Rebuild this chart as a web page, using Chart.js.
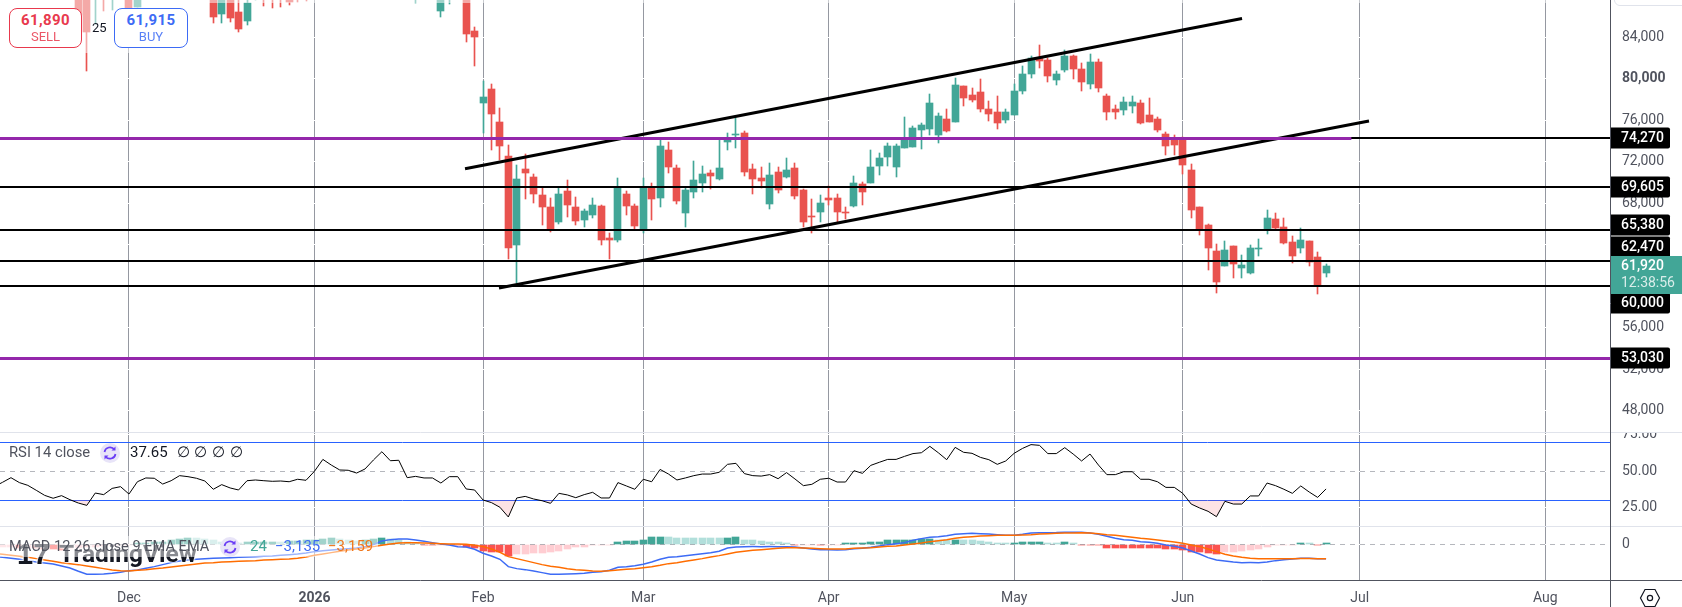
<!DOCTYPE html>
<html lang="en">
<head>
<meta charset="utf-8">
<title>Daily price chart with RSI and MACD</title>
<script src="https://cdn.jsdelivr.net/npm/chart.js@4/dist/chart.umd.min.js"></script>
<style>
  html, body { margin: 0; padding: 0; background: #fff; width: 1682px; height: 607px; overflow: hidden; }
  body { position: relative; font-family: Roboto, "Noto Sans", sans-serif; }
  canvas { position: absolute; left: 0; top: 0; }
  .abs { position: absolute; white-space: nowrap; }
  .order { box-sizing: border-box; height: 40px; top: 8px; border: 1px solid; border-radius: 8px; background: #fff; text-align: center; }
  .order b { display: block; font-size: 15px; line-height: 17px; margin-top: 3px; letter-spacing: .4px; }
  .order span { display: block; font-size: 13px; line-height: 15px; opacity: .85; }
  .row { font-size: 14.6px; color: #50535e; line-height: 20px; }
  .halo { color: #131722; font-weight: 700; text-shadow: 0 0 2px #fff, 0 0 2px #fff, 0 0 3px #fff; }
</style>
</head>
<body>
<canvas id="chart" width="1682" height="607"></canvas>

<div class="abs" style="left:1614px;top:-12px;width:90px;height:16px;border:1px solid #e0e3eb;border-radius:6px;"></div>

<!-- logo mark in the lower pane -->
<div class="abs halo" style="left:17px;top:538px;font-size:29px;line-height:32px;font-family:'Liberation Sans',sans-serif;">17</div>
<div class="abs halo" style="left:59px;top:538px;font-size:24.5px;line-height:32px;font-family:Roboto,sans-serif;">TradingView</div>
<div class="abs" style="left:0;top:536px;width:378px;height:21px;background:rgba(255,255,255,.5);"></div>

<!-- order buttons -->
<div class="abs order" style="left:9px;width:73px;color:#e8394d;border-color:#e8394d;"><b>61,890</b><span>SELL</span></div>
<div class="abs" style="left:92px;top:19px;font-size:13px;line-height:18px;color:#131722;">25</div>
<div class="abs order" style="left:114px;width:74px;color:#3d6bf5;border-color:#3d6bf5;"><b>61,915</b><span>BUY</span></div>

<!-- indicator legends -->
<div class="abs row" style="left:9px;top:442px;font-size:14.8px;">RSI 14 close</div>
<svg class="abs" style="left:100px;top:443px;" width="20" height="20" viewBox="0 0 20 20"><circle cx="10" cy="10" r="10" fill="#e8e4f8"/><path d="M4.5 9a5.6 5.6 0 0 1 10-2.4M15.5 11a5.6 5.6 0 0 1-10 2.4" fill="none" stroke="#6a3df5" stroke-width="1.7"/><path d="M15.5 3.6v4h-4zM4.5 16.4v-4h4z" fill="#6a3df5"/></svg>
<div class="abs row" style="left:130px;top:442px;color:#131722;font-size:15px;">37.65<span style="margin-left:9px;word-spacing:1px;">∅ ∅ ∅ ∅</span></div>

<div class="abs row" style="left:9px;top:536px;">MACD 12 26 close 9 EMA EMA</div>
<svg class="abs" style="left:220px;top:537px;" width="20" height="20" viewBox="0 0 20 20"><circle cx="10" cy="10" r="10" fill="#e8e4f8"/><path d="M4.5 9a5.6 5.6 0 0 1 10-2.4M15.5 11a5.6 5.6 0 0 1-10 2.4" fill="none" stroke="#6a3df5" stroke-width="1.7"/><path d="M15.5 3.6v4h-4zM4.5 16.4v-4h4z" fill="#6a3df5"/></svg>
<div class="abs row" style="left:250px;top:536px;color:#42a697;font-size:15px;">24</div>
<div class="abs row" style="left:275px;top:536px;color:#3d6bf5;font-size:15px;">−3,135</div>
<div class="abs row" style="left:328px;top:536px;color:#f0771c;font-size:15px;">−3,159</div>

<!-- settings glyph under the price axis -->
<svg class="abs" style="left:1639px;top:588px;" width="22" height="20" viewBox="0 0 22 20"><path d="M6 1.5h10l4.5 8.5-4.5 8.5H6L1.5 10z" fill="none" stroke="#131722" stroke-width="1.2"/><circle cx="11" cy="10" r="2.6" fill="none" stroke="#131722" stroke-width="1.2"/></svg>

<script>
// Bar numbering: bar 0 is the first session of December, sessions only, no weekends.
const firstBar = -16;

const opens = [
94200,94600,93900,93200,94100,95200,94300,92900,91700,92200,90600,89000,89500,90000,88200,90400,
91000,86940,90200,89300,90100,91300,92600,93900,94900,93300,90700,86260,88400,86450,85580,87800,
88600,88900,88700,88100,88300,88900,88300,89200,90700,91300,90800,89700,90400,91900,93400,95100,
93200,91300,89100,90200,89200,86550,88600,89300,88200,84620,77680,79030,75840,72560,63980,71310,
70540,68800,67640,66200,69190,67640,66390,66870,67740,64650,64460,68900,67740,65430,69570,68510,
73140,71410,67070,69090,69960,70920,70340,73910,74590,74780,71310,70440,67930,71020,70540,71410,
69280,66780,67160,68510,68510,67160,67740,69860,69960,71600,72470,71500,73340,73430,75070,75170,
74590,76130,75840,79320,78450,78740,77100,76810,76040,76520,78830,80470,81980,81820,79890,80860,
82210,80950,79510,81630,78350,77100,77000,77390,77680,76520,76130,74690,74110,74200,71210,67640,
65910,63400,61950,63880,61760,61280,63590,65520,66490,65710,64270,63690,64360,62820,61280];

const highs = [
95100,95500,94700,94400,95600,95900,94800,93600,92500,92800,91100,90000,90100,90400,91000,91500,
91900,90600,91300,90400,91700,93000,94300,95400,95200,93700,91200,89000,88800,88000,87900,89000,
89000,89400,89300,88600,88700,89100,89600,91000,91800,92400,91100,90900,92300,93900,95600,96200,
94100,91900,90800,91300,89800,89000,89700,90000,88900,85000,79800,79510,77190,73620,71700,72720,
70830,69480,68510,69570,70250,68610,67450,68510,67840,65140,70440,69190,67900,70440,69930,74110,
73910,71700,69540,72080,71600,71210,74110,74780,76200,74970,71790,71500,71890,71500,72370,71890,
69380,68420,68800,69670,68900,67640,70630,70050,73140,72850,73820,73720,76330,75460,75750,78540,
76710,77100,80090,79320,79120,79990,77870,78350,77100,79510,81240,82210,83270,82020,80760,82790,
82310,81530,82400,81920,78540,77480,78250,78350,77960,78160,76330,74880,74590,74400,71790,67640,
66000,64080,64360,63880,63010,63980,64560,67350,67070,66580,64850,65620,64360,63300,62150];

const lows = [
93300,93700,92800,92500,93600,93900,92600,91400,90600,90200,85800,80760,85300,86550,86650,88800,
85800,86900,88900,88300,89800,90800,92100,93200,92900,90400,85390,85390,85490,84520,85200,87650,
87030,86840,86940,87130,87420,87520,87800,88800,90100,90500,89300,89100,90000,91300,93000,92800,
90800,88700,87320,88900,88000,85970,87220,87800,83560,81270,74780,73140,72180,62600,60280,68420,
68030,65910,65230,66000,66680,65910,65720,66580,63980,62600,64270,66870,65430,65100,66390,67640,
70920,67930,65720,68510,69090,69380,70250,73140,73330,70630,68900,69480,67450,68990,70440,68420,
65720,65140,66200,67840,66200,66490,67640,67840,69960,70730,71600,70540,73340,73430,73240,74590,
73820,74880,75840,77390,77770,76810,75940,75170,75750,76520,78540,80090,81050,79700,79410,80670,
79990,78830,79030,78740,76040,76130,76520,76710,75650,75840,74880,72660,72660,70830,66580,64940,
61570,59350,61950,60800,60800,61180,62920,65040,65500,64080,62240,63210,61950,59250,60890];

const closes = [
94600,93900,93200,94100,95200,94300,92900,91700,92200,90600,86160,84520,90000,88200,90400,90900,
86200,90200,89300,90100,91300,92600,93900,94900,93300,90700,85970,88400,85870,84810,87300,88600,
87900,88200,87950,87420,88000,88300,89200,90700,91300,90800,89700,90400,91900,93400,95100,93200,
91300,89100,90200,89200,88400,88600,89300,88200,84330,84040,78250,76610,73530,63720,70340,70920,
68900,67640,65430,68900,67840,66290,67260,67840,64460,64460,69570,67740,65810,69480,68420,73530,
71500,68220,69280,70250,70830,70630,71410,74170,74690,71020,70340,70150,70730,69280,71210,68710,
66200,66680,68030,68320,67160,67070,69960,69090,71500,72370,73530,73530,74300,75260,75550,77680,
76420,74980,79410,78160,77970,77100,76610,75750,76810,78830,80470,82020,81730,80280,80470,82210,
80950,79700,81630,79120,76810,76810,77770,77770,75750,75840,75070,73530,73630,71700,67360,65520,
63690,60410,63500,62150,62050,63690,63690,66580,65620,64170,62920,64460,62340,60120,61920];

const rsiValues = [
39.2,42.2,45.4,42.0,40.1,36.7,33.2,31.2,33.0,30.2,27.9,26.3,34.8,33.7,38.0,39.2,
34.1,42.6,45.2,45.0,41.0,43.3,46.8,46.1,45.0,43.1,37.4,40.6,38.3,36.9,43.3,43.8,
43.3,42.9,43.1,42.6,44.3,43.6,49.8,58.0,54.1,50.7,50.5,48.6,51.4,57.6,63.3,57.1,
57.4,45.4,46.3,45.2,45.2,41.7,46.1,46.1,37.6,36.9,30.0,28.2,25.0,18.3,31.4,32.5,
30.7,29.5,27.7,34.6,33.5,31.6,33.7,35.3,31.4,31.4,42.0,39.7,37.4,44.3,42.6,51.1,
47.9,43.8,45.2,46.8,47.9,47.9,49.1,54.6,55.3,48.2,46.8,46.5,47.5,44.7,48.9,44.5,
39.9,40.8,44.3,45.0,42.4,42.4,50.2,48.4,53.9,56.0,58.0,58.0,60.1,62.0,62.6,67.0,
62.6,57.8,66.3,62.9,62.2,59.4,57.8,54.6,56.9,62.2,65.6,68.2,67.7,62.0,62.0,66.1,
61.7,56.9,61.7,54.1,47.5,47.5,49.5,49.5,44.3,44.3,42.6,38.7,38.7,34.6,27.2,24.5,
22.2,18.5,29.1,27.2,27.2,32.8,32.8,41.7,39.9,37.4,34.6,39.7,35.5,31.8,37.65];

const macdLine = [
-2543,-2834,-3052,-3270,-3561,-3852,-4070,-4288,-4724,-5160,-5886,-6540,-6540,-6468,-6322,-6104,
-5741,-5596,-5232,-4869,-4433,-3997,-3634,-3415,-3270,-3125,-3052,-2980,-2907,-2834,-2761,-2689,
-2616,-2543,-2398,-2253,-2107,-1889,-1599,-1381,-1235,-1090,-945,-799,-509,-73,727,1017,
1163,1163,945,654,363,73,-145,-509,-581,-1090,-1962,-2543,-3270,-4869,-5305,-5523,
-5814,-6177,-6540,-6540,-6468,-6395,-6322,-6104,-5959,-5668,-5014,-4869,-4651,-4360,-3852,-3270,
-2834,-2689,-2471,-2253,-2035,-1817,-1526,-799,-581,-509,-500,-510,-505,-510,-515,-581,
-799,-1017,-1163,-1170,-1235,-1163,-945,-872,-654,-363,-73,145,363,872,1235,1526,
1671,1889,2180,2325,2398,2325,2253,2107,1962,1960,2180,2471,2543,2540,2550,2616,
2620,2610,2471,2180,1744,1308,1017,872,581,436,218,-145,-436,-799,-1453,-2107,
-2907,-3415,-3634,-3852,-3997,-3990,-4000,-3852,-3561,-3343,-3197,-3052,-3060,-3125,-3135];

const signalLine = [
-1962,-2180,-2398,-2616,-2834,-3125,-3415,-3706,-3997,-4215,-4433,-4724,-5014,-5305,-5596,-5741,
-5814,-5668,-5523,-5305,-5160,-4942,-4724,-4506,-4288,-4070,-3997,-3852,-3779,-3706,-3634,-3561,
-3415,-3343,-3270,-3197,-3052,-2761,-2398,-2107,-1817,-1526,-1235,-1017,-799,-509,-218,73,
291,363,360,291,218,145,73,70,0,-218,-509,-1017,-1744,-2689,-3125,-3561,
-3997,-4433,-4796,-5014,-5305,-5523,-5668,-5814,-5886,-5741,-5596,-5450,-5305,-5087,-4869,-4578,
-4215,-3997,-3706,-3415,-3125,-2761,-2471,-2107,-1744,-1526,-1308,-1163,-1017,-872,-727,-730,
-799,-872,-945,-1017,-1020,-1015,-872,-799,-727,-581,-436,-363,-145,73,291,581,
799,1017,1308,1526,1671,1817,1889,1962,1960,1965,2035,2107,2253,2325,2398,2471,
2475,2543,2471,2325,2107,1962,1744,1526,1308,1163,945,727,509,218,-145,-509,
-1017,-1599,-2180,-2543,-2834,-3052,-3125,-3130,-3135,-3140,-3145,-3100,-3110,-3140,-3159];

const histogram = [
-650,-650,-650,-720,-720,-800,-1000,-1100,-1150,-950,-800,-650,-500,-400,-300,-150,
-60,200,363,436,509,872,1163,1453,1308,1163,945,436,363,330,400,436,
509,581,560,690,727,872,900,1163,1453,1163,1017,800,945,1090,1380,1235,
945,509,363,-70,-150,-150,-70,-100,-500,-870,-1380,-1600,-1744,-2616,-2180,-2150,
-1960,-1816,-1744,-1380,-1017,-650,-510,-145,-40,-20,509,727,740,945,1526,1600,
1526,1453,1440,1430,1380,1370,1360,1453,1600,945,940,727,581,436,290,-40,
-30,-25,-60,-40,-30,40,218,290,436,581,872,945,950,1017,1090,1235,
872,860,1017,872,860,727,509,290,280,363,509,515,520,363,350,509,
218,-20,-30,-60,-727,-740,-750,-760,-770,-780,-872,-1017,-1090,-1163,-1600,-1744,
-1890,-2107,-1600,-1590,-1453,-1235,-1017,-654,-218,-100,-40,200,190,-20,24];

const supportLevels = [74270, 69605, 65380, 62470, 60000];
const keyLevels = [74270, 53030];
const keyLevelEnds = [145, 175.7];
const channelUpper = [[39.86, 71337], [132.03, 85825]];
const channelLower = [[43.89, 59830], [147.09, 75938]];

const priceTicks = [84000, 80000, 76000, 72000, 68000, 64000, 60000, 56000, 52000, 48000];
const rsiTicks = [75, 50, 25];
const rsiBands = [70, 30];
const macdTicks = [0];
const monthTicks = [0, 22, 42, 61, 83, 105, 125, 146, 168];
const monthLabels = ['Dec', '2026', 'Feb', 'Mar', 'Apr', 'May', 'Jun', 'Jul', 'Aug'];

const priceBadges = [74270, 69605, 65380, 62470, 60000, 53030];
const badgeShift = [0, 0, -5, -14, 17, 0];
const lastPrice = 61920;
const countdown = '12:38:56';

const RED = '#e9534f', TEAL = '#42a697', PURPLE = '#9427ab', BLACK = '#000000';
const AXIS_TEXT = '#50535e', AXIS_LINE = '#50535e', PANE_LINE = '#e0e3eb';
const FONT = 'Roboto, "Noto Sans", sans-serif';
const X_MIN = -15.3, X_MAX = 175.68;

const barX = opens.map((_, k) => firstBar + k);
const candleColor = opens.map((o, k) => closes[k] >= o ? TEAL : RED);
const histColor = histogram.map((v, k) => {
  const prev = k ? histogram[k - 1] : v;
  if (v >= 0) return v >= prev ? '#42a697' : '#b2dfdb';
  return v < prev ? '#fb5350' : '#ffcdd2';
});

const hline = (y, x0, x1, extra) => Object.assign({
  type: 'line', yAxisID: 'price', xAxisID: 'x', pointRadius: 0, fill: false,
  crisp: true, data: [{x: x0, y}, {x: x1, y}]
}, extra);

const series = (values, axis, extra) => Object.assign({
  type: 'line', yAxisID: axis, xAxisID: 'x', pointRadius: 0, fill: false, tension: 0,
  data: values.map((y, k) => ({x: barX[k], y}))
}, extra);

const datasets = [
  // candles: wicks first, bodies above them
  {type: 'bar', yAxisID: 'price', xAxisID: 'x', order: 30, grouped: false, barThickness: 1, borderWidth: 0,
   backgroundColor: candleColor, data: barX.map((x, k) => ({x, y: [lows[k], highs[k]]}))},
  {type: 'bar', yAxisID: 'price', xAxisID: 'x', order: 29, grouped: false, barThickness: 7, borderWidth: 0,
   backgroundColor: candleColor, data: barX.map((x, k) => ({x, y: [opens[k], closes[k]]}))},

  // horizontal levels and the rising channel
  ...supportLevels.map(v => hline(v, X_MIN, X_MAX, {order: 9, borderColor: BLACK, borderWidth: 2})),
  ...keyLevels.map((v, k) => hline(v, X_MIN, keyLevelEnds[k], {order: 7, borderColor: PURPLE, borderWidth: 3})),
  {type: 'line', yAxisID: 'price', xAxisID: 'x', order: 8, pointRadius: 0, borderColor: BLACK, borderWidth: 3, fill: false,
   data: channelUpper.map(([x, y]) => ({x, y}))},
  {type: 'line', yAxisID: 'price', xAxisID: 'x', order: 8, pointRadius: 0, borderColor: BLACK, borderWidth: 3, fill: false,
   data: channelLower.map(([x, y]) => ({x, y}))},

  // RSI pane
  ...rsiBands.map(v => Object.assign(hline(v, X_MIN, X_MAX, {order: 6, borderColor: '#2962ff', borderWidth: 1}), {yAxisID: 'rsi'})),
  Object.assign(hline(50, X_MIN, X_MAX, {order: 6, borderColor: 'rgba(120,123,134,.55)', borderWidth: 1, borderDash: [5, 5]}), {yAxisID: 'rsi'}),
  series(rsiValues, 'rsi', {order: 5, borderColor: '#000', borderWidth: 1,
    fill: {target: {value: 30}, above: 'rgba(0,0,0,0)', below: 'rgba(242,54,69,.14)'}}),

  // MACD pane
  {type: 'bar', yAxisID: 'macd', xAxisID: 'x', order: 12, grouped: false, barThickness: 7, borderWidth: 0, minBarLength: 1,
   backgroundColor: histColor, data: barX.map((x, k) => ({x, y: histogram[k]}))},
  Object.assign(hline(0, X_MIN, X_MAX, {order: 11, borderColor: 'rgba(120,123,134,.55)', borderWidth: 1, borderDash: [5, 5]}), {yAxisID: 'macd'}),
  series(macdLine, 'macd', {order: 4, borderColor: '#3d6bf5', borderWidth: 1.5}),
  series(signalLine, 'macd', {order: 3, borderColor: '#ff6d00', borderWidth: 1.5})
];

// Keeps bars and level lines on whole pixels so their edges stay sharp.
const crispMarks = {
  id: 'crispMarks',
  afterDatasetsUpdate(chart) {
    chart.getSortedVisibleDatasetMetas().forEach(meta => {
      const ds = chart.data.datasets[meta.index];
      if (meta.type === 'bar') {
        meta.data.forEach(el => {
          el.x = Math.floor(el.x) + 0.5;
          el.y = Math.round(el.y);
          el.base = Math.round(el.base);
        });
      } else if (ds.crisp) {
        const odd = ds.borderWidth % 2 === 1;
        meta.data.forEach(pt => { pt.y = odd ? Math.floor(pt.y) + 0.5 : Math.round(pt.y); });
      }
    });
  }
};

const fmt = v => v.toLocaleString('en-US');

function roundBox(ctx, x, y, w, h, r, fill) {
  ctx.beginPath();
  ctx.roundRect(x, y, w, h, r);
  ctx.fillStyle = fill;
  ctx.fill();
}

// Pane rules, axis lines and the labels pinned to the price axis.
const chartChrome = {
  id: 'chartChrome',
  afterDatasetsDraw(chart) {
    const {ctx} = chart;
    ctx.save();
    ctx.fillStyle = 'rgba(255,255,255,.5)';
    ctx.fillRect(0, 0, 190, 53);
    ctx.fillRect(190, 0, 1420, 3);
    ctx.restore();
  },
  afterDraw(chart) {
    const {ctx, scales} = chart;
    const price = scales.price;
    ctx.save();

    ctx.fillStyle = '#fff';
    ctx.fillRect(1611, 424, 71, 8);

    ctx.strokeStyle = PANE_LINE;
    ctx.lineWidth = 1;
    [432.5, 526.5].forEach(y => {
      ctx.beginPath(); ctx.moveTo(0, y); ctx.lineTo(1682, y); ctx.stroke();
    });
    ctx.strokeStyle = AXIS_LINE;
    ctx.beginPath(); ctx.moveTo(1610.5, 0); ctx.lineTo(1610.5, 607); ctx.stroke();
    ctx.beginPath(); ctx.moveTo(0, 580.5); ctx.lineTo(1682, 580.5); ctx.stroke();

    ctx.textBaseline = 'middle';
    ctx.textAlign = 'left';
    ctx.font = '500 14px ' + FONT;
    priceBadges.forEach((v, k) => {
      const cy = Math.round(price.getPixelForValue(v)) + badgeShift[k];
      roundBox(ctx, 1611, cy - 10.5, 59, 21, [0, 2, 2, 0], '#000');
      ctx.fillStyle = '#fff';
      ctx.fillText(fmt(v), 1621, cy + 0.5);
    });

    const ly = Math.round(price.getPixelForValue(lastPrice));
    ctx.fillStyle = TEAL;
    ctx.fillRect(1611, ly - 10, 71, 38);
    ctx.fillStyle = '#fff';
    ctx.font = '500 14px ' + FONT;
    ctx.fillText(fmt(lastPrice), 1621, ly + 0.5);
    ctx.fillStyle = 'rgba(255,255,255,.8)';
    ctx.font = '14px ' + FONT;
    ctx.fillText(countdown, 1621, ly + 17.5);
    ctx.restore();
  }
};

const pricePane = (weight, stackWeight, min, max, ticks, label, extra) => Object.assign({
  type: 'linear', position: 'right', stack: 'panes', stackWeight, weight, min, max,
  grid: {color: '#ffffff', lineWidth: 1, drawTicks: false, offset: false, z: -1},
  border: {display: false},
  afterFit(s) { s.width = 72; s.paddingTop = 0; s.paddingBottom = 0; },
  afterBuildTicks(s) { s.ticks = ticks.map(value => ({value})); },
  ticks: {
    padding: 12, color: AXIS_TEXT, autoSkip: false,
    callback: label,
    font: {family: FONT, size: 14}
  }
}, extra);

new Chart(document.getElementById('chart'), {
  type: 'bar',
  data: {datasets},
  plugins: [crispMarks, chartChrome],
  options: {
    responsive: false,
    animation: false,
    events: [],
    layout: {padding: 0},
    plugins: {legend: {display: false}, tooltip: {enabled: false}, title: {display: false}},
    scales: {
      x: {
        type: 'linear', position: 'bottom', min: X_MIN, max: X_MAX, offset: false,
        grid: {color: '#9598a1', lineWidth: 1, drawTicks: false, offset: false, z: -2},
        border: {display: false},
        afterFit(s) { s.height = 27; s.paddingLeft = 0; s.paddingRight = 0; },
        afterBuildTicks(s) { s.ticks = monthTicks.map(value => ({value})); },
        ticks: {
          autoSkip: false, maxRotation: 0, padding: 10, color: AXIS_TEXT,
          callback: v => monthLabels[monthTicks.indexOf(v)],
          font: c => ({family: FONT, size: 14, weight: c.tick && c.tick.value === 22 ? '700' : '400'})
        }
      },
      price: pricePane(0, 432, 45939, 87610, priceTicks, v => fmt(v), {
        ticks: {
          padding: 12, color: AXIS_TEXT, autoSkip: false, callback: v => fmt(v),
          font: c => ({family: FONT, size: 14, weight: c.tick && c.tick.value === 80000 ? '700' : '400'})
        }
      }),
      rsi: pricePane(1, 94, 12.07, 76.9, rsiTicks, v => v.toFixed(2)),
      macd: pricePane(2, 54, -7783, 3989, macdTicks, v => String(v))
    }
  }
});
</script>
</body>
</html>
